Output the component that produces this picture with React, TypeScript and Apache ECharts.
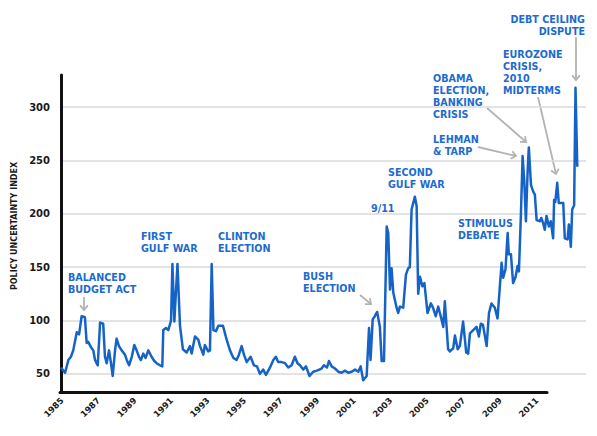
import React, { useEffect, useRef } from "react";
import * as echarts from "echarts";

// Monthly policy uncertainty index, sampled at decimal years
const dates = [
  1985.0, 1985.21, 1985.38, 1985.51, 1985.63, 1985.81, 1985.93, 1986.06, 1986.23, 1986.32,
  1986.4, 1986.54, 1986.66, 1986.75, 1986.89, 1987.01, 1987.17, 1987.26, 1987.35, 1987.47,
  1987.57, 1987.66, 1987.78, 1987.86, 1987.98, 1988.12, 1988.29, 1988.38, 1988.5, 1988.64,
  1988.77, 1988.89, 1989.01, 1989.11, 1989.23, 1989.35, 1989.49, 1989.66, 1989.8, 1989.92,
  1990.09, 1990.21, 1990.26, 1990.4, 1990.52, 1990.66, 1990.73, 1990.83, 1990.99, 1991.12,
  1991.27, 1991.46, 1991.63, 1991.72, 1991.89, 1992.06, 1992.15, 1992.32, 1992.4, 1992.57,
  1992.66, 1992.75, 1992.84, 1992.97, 1993.09, 1993.17, 1993.33, 1993.52, 1993.69, 1993.86,
  1994.03, 1994.15, 1994.29, 1994.41, 1994.55, 1994.75, 1994.92, 1995.08, 1995.23, 1995.4,
  1995.54, 1995.75, 1995.92, 1996.05, 1996.17, 1996.35, 1996.52, 1996.69, 1996.86, 1997.03,
  1997.16, 1997.29, 1997.46, 1997.6, 1997.78, 1997.97, 1998.16, 1998.4, 1998.52, 1998.68,
  1998.78, 1998.92, 1999.09, 1999.26, 1999.43, 1999.6, 1999.77, 1999.95, 2000.12, 2000.29,
  2000.41, 2000.54, 2000.72, 2000.84, 2000.92, 2001.03, 2001.14, 2001.26, 2001.4, 2001.49,
  2001.61, 2001.75, 2001.83, 2001.92, 2002.0, 2002.09, 2002.26, 2002.34, 2002.43, 2002.6,
  2002.74, 2002.86, 2002.94, 2003.03, 2003.2, 2003.29, 2003.37, 2003.46, 2003.59, 2003.69,
  2003.85, 2004.02, 2004.13, 2004.27, 2004.4, 2004.57, 2004.66, 2004.74, 2004.91, 2005.0,
  2005.17, 2005.26, 2005.4, 2005.51, 2005.68, 2005.84, 2005.94, 2006.03, 2006.2, 2006.37,
  2006.49, 2006.59, 2006.7, 2006.89, 2007.01, 2007.14, 2007.31, 2007.45, 2007.57, 2007.66,
  2007.74, 2007.86, 2007.97, 2008.03, 2008.14, 2008.25, 2008.38, 2008.48, 2008.55, 2008.65,
  2008.74, 2008.82, 2008.91, 2009.0, 2009.06, 2009.17, 2009.28, 2009.37, 2009.46, 2009.63,
  2009.7, 2009.8, 2009.88, 2009.97, 2010.09, 2010.19, 2010.31, 2010.36, 2010.42, 2010.52,
  2010.6, 2010.74, 2010.83, 2010.91, 2011.05, 2011.12, 2011.22, 2011.29, 2011.39, 2011.46,
  2011.55, 2011.58,
];

const uncertainty = [
  56, 51, 63, 66, 72, 89, 87, 104, 103, 79,
  80, 75, 72, 63, 58, 98, 97, 66, 60, 72,
  60, 48, 72, 83, 76, 72, 68, 63, 58, 66,
  77, 72, 66, 63, 69, 65, 72, 66, 62, 60,
  58, 57, 91, 93, 91, 100, 153, 99, 153, 95,
  73, 70, 76, 69, 85, 82, 76, 68, 77, 71,
  72, 153, 91, 90, 95, 95, 95, 82, 72, 65,
  63, 68, 76, 68, 61, 66, 58, 57, 50, 54,
  49, 56, 63, 66, 61, 61, 60, 56, 58, 66,
  60, 58, 54, 57, 48, 52, 53, 55, 58, 56,
  62, 57, 55, 52, 51, 53, 51, 52, 54, 52,
  57, 44, 48, 93, 63, 101, 104, 108, 94, 62,
  62, 188, 182, 129, 149, 126, 112, 107, 113, 112,
  143, 149, 150, 204, 216, 207, 125, 141, 132, 135,
  107, 116, 112, 104, 113, 101, 94, 118, 73, 71,
  74, 86, 73, 76, 99, 70, 69, 88, 91, 94,
  85, 97, 96, 76, 107, 116, 112, 102, 132, 154,
  140, 148, 182, 162, 162, 135, 141, 151, 146, 198,
  254, 232, 193, 241, 262, 227, 221, 218, 194, 193,
  196, 191, 185, 198, 188, 193, 177, 213, 211, 229,
  210, 210, 210, 177, 176, 190, 169, 204, 208, 318,
  245, 246,
];

const yTicks = [50, 100, 150, 200, 250, 300];
const yearLabels = [1985, 1987, 1989, 1991, 1993, 1995, 1997, 1999, 2001, 2003, 2005, 2007, 2009, 2011];

const LINE_BLUE = "#1563c6";
const TEXT_BLUE = "#1b6bd0";
const ARROW_GRAY = "#b3b3b3";
const FONT = '"DejaVu Sans", "Open Sans", sans-serif';
const NOTE_SIZE = 9.6;
const NOTE_LINE = 12.2;

type Note = { lines: string[]; x: number; y: number; align?: "left" | "right" };

const notes: Note[] = [
  { lines: ["BALANCED", "BUDGET ACT"], x: 68, y: 272 },
  { lines: ["FIRST", "GULF WAR"], x: 141, y: 231 },
  { lines: ["CLINTON", "ELECTION"], x: 218, y: 231 },
  { lines: ["BUSH", "ELECTION"], x: 303, y: 271 },
  { lines: ["9/11"], x: 371, y: 203 },
  { lines: ["SECOND", "GULF WAR"], x: 388, y: 167 },
  { lines: ["STIMULUS", "DEBATE"], x: 458, y: 218 },
  { lines: ["LEHMAN", "& TARP"], x: 433, y: 134 },
  { lines: ["OBAMA", "ELECTION,", "BANKING", "CRISIS"], x: 433, y: 73 },
  { lines: ["EUROZONE", "CRISIS,", "2010", "MIDTERMS"], x: 503, y: 49 },
  { lines: ["DEBT CEILING", "DISPUTE"], x: 585, y: 14, align: "right" },
];

const arrows: [number, number, number, number][] = [
  [84, 297, 84, 310],
  [360, 295, 371, 304],
  [478, 147, 516, 156],
  [487, 108, 526, 142],
  [538, 97, 556, 174],
  [576, 37, 576, 80],
];

function arrowShapes(x1: number, y1: number, x2: number, y2: number) {
  const a = Math.atan2(y2 - y1, x2 - x1);
  const len = 6;
  const spread = 0.7;
  const p1 = [x2 - len * Math.cos(a - spread), y2 - len * Math.sin(a - spread)];
  const p2 = [x2 - len * Math.cos(a + spread), y2 - len * Math.sin(a + spread)];
  return [
    { type: "line", shape: { x1, y1, x2, y2 }, style: { stroke: ARROW_GRAY, lineWidth: 1.8 } },
    {
      type: "polyline",
      shape: { points: [p1, [x2, y2], p2] },
      style: { stroke: ARROW_GRAY, lineWidth: 1.8, fill: null },
    },
  ];
}

export default function App() {
  const ref = useRef<HTMLDivElement>(null);

  useEffect(() => {
    document.body.style.margin = "0";
    if (!ref.current) return;
    const chart = echarts.init(ref.current, null, { renderer: "svg" });

    const seriesData = dates.map((d, i) => [d, uncertainty[i]]);

    // each annotation line is its own text element so the lines stack cleanly
    const noteTexts = notes.flatMap((n) =>
      n.lines.map((line, i) => ({
        type: "text",
        x: n.x,
        y: n.y + i * NOTE_LINE,
        style: {
          text: line,
          fill: TEXT_BLUE,
          fontFamily: FONT,
          fontWeight: "bold",
          fontSize: NOTE_SIZE,
          align: n.align || "left",
          verticalAlign: "top",
        },
      }))
    );

    const graphics: any[] = [
      {
        type: "text",
        x: 14,
        y: 226,
        rotation: Math.PI / 2,
        style: {
          text: "POLICY UNCERTAINTY INDEX",
          fill: "#1a1a1a",
          fontFamily: FONT,
          fontWeight: "bold",
          fontSize: 8,
          align: "center",
          verticalAlign: "middle",
        },
      },
      ...noteTexts,
      ...arrows.flatMap((a) => arrowShapes(a[0], a[1], a[2], a[3])),
    ];

    chart.setOption({
      animation: false,
      backgroundColor: "#ffffff",
      grid: [
        { left: 61, right: 11, top: 75, bottom: 44 },
        { left: 60, right: 50, top: 75, bottom: 44 },
      ],
      xAxis: [
        { type: "value", gridIndex: 0, min: 1985, max: 2012, show: false },
        {
          type: "value",
          gridIndex: 1,
          min: 1984.89,
          max: 2011.55,
          axisLine: { show: true, lineStyle: { color: "#111111", width: 3 } },
          axisTick: { show: false, customValues: yearLabels },
          splitLine: { show: false },
          axisLabel: {
            customValues: yearLabels,
            rotate: 45,
            margin: 7,
            color: "#1a1a1a",
            fontFamily: FONT,
            fontWeight: "bold",
            fontSize: 8.5,
            formatter: (v: number) => String(Math.round(v)),
          },
        },
      ],
      yAxis: [
        {
          type: "value",
          gridIndex: 0,
          min: 33,
          max: 330,
          axisLine: { show: true, lineStyle: { color: "#111111", width: 3 } },
          axisTick: { show: false, customValues: yTicks },
          axisLabel: {
            customValues: yTicks,
            margin: 11,
            color: "#1a1a1a",
            fontFamily: FONT,
            fontWeight: "bold",
            fontSize: 10,
          },
          splitLine: { show: true, lineStyle: { color: "#dadada", width: 1.5 } },
        },
        { type: "value", gridIndex: 1, min: 33, max: 330, show: false },
      ],
      series: [
        {
          type: "line",
          xAxisIndex: 0,
          yAxisIndex: 0,
          data: seriesData,
          showSymbol: false,
          lineStyle: { color: LINE_BLUE, width: 2.5, join: "round" },
          z: 5,
        },
      ],
      graphic: graphics,
    });

    return () => chart.dispose();
  }, []);

  return <div ref={ref} style={{ width: 597, height: 436 }} />;
}
